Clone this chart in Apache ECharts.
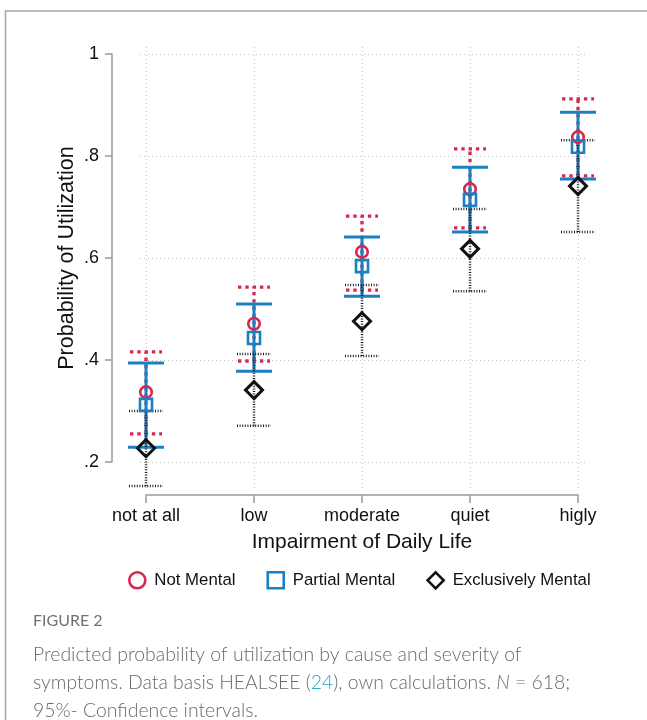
<!DOCTYPE html>
<html>
<head>
<meta charset="utf-8">
<script src="https://cdn.jsdelivr.net/npm/echarts@6/dist/echarts.min.js"></script>
<style>
html,body{margin:0;padding:0;background:#fff;}
#chart{width:647px;height:720px;}
</style>
</head>
<body>
<div id="chart"></div>
<script>
// ---- data ----
const categories = ['not at all', 'low', 'moderate', 'quiet', 'higly'];
const yTicks = [0.2, 0.4, 0.6, 0.8, 1];

const notMental   = [0.337, 0.471, 0.612, 0.735, 0.837];
const notMentalLo = [0.255, 0.398, 0.537, 0.659, 0.761];
const notMentalHi = [0.416, 0.543, 0.682, 0.814, 0.912];

const partialMental   = [0.312, 0.443, 0.584, 0.714, 0.818];
const partialMentalLo = [0.229, 0.378, 0.525, 0.651, 0.755];
const partialMentalHi = [0.394, 0.510, 0.641, 0.778, 0.886];

const exclMental   = [0.227, 0.341, 0.476, 0.618, 0.741];
const exclMentalLo = [0.153, 0.271, 0.408, 0.535, 0.651];
const exclMentalHi = [0.300, 0.412, 0.547, 0.696, 0.831];

// ---- styling ----
const RED = '#d8284f', BLUE = '#1a80c2', BLACK = '#111111';
const AXIS_GRAY = '#9a9a9a', GRID_GRAY = '#c4c4c4';
const FONT = '"Liberation Sans", Arial, sans-serif';

function pts(vals) { return vals.map((v, i) => [i, v]); }
function ci(lo, hi) { return lo.map((l, i) => [i, l, hi[i]]); }

function ciRenderer(style, hw) {
  return function (params, api) {
    const x = api.value(0);
    const pLo = api.coord([x, api.value(1)]);
    const pHi = api.coord([x, api.value(2)]);
    return {
      type: 'group',
      children: [
        { type: 'line', shape: { x1: pLo[0], y1: pLo[1], x2: pHi[0], y2: pHi[1] }, style: style },
        { type: 'line', shape: { x1: pLo[0] - hw, y1: pLo[1], x2: pLo[0] + hw, y2: pLo[1] }, style: style },
        { type: 'line', shape: { x1: pHi[0] - hw, y1: pHi[1], x2: pHi[0] + hw, y2: pHi[1] }, style: style }
      ]
    };
  };
}

const chart = echarts.init(document.getElementById('chart'), null, { renderer: 'canvas' });

const option = {
  animation: false,
  backgroundColor: '#fff',
  grid: [
    { left: 146, right: 69, top: 54, bottom: 258 },   // data grid
    { left: 146, right: 69, top: 47, bottom: 230 },   // vertical grid lines
    { left: 140, right: 62, top: 54, bottom: 258 }    // horizontal grid lines
  ],
  xAxis: [
    {
      gridIndex: 0, type: 'value', min: 0, max: categories.length - 1, interval: 1,
      offset: 33,
      axisLine: { show: true, onZero: false, lineStyle: { color: AXIS_GRAY, width: 1.5 } },
      axisTick: { show: true, length: 8, lineStyle: { color: AXIS_GRAY, width: 1.5 } },
      axisLabel: { margin: 12, fontSize: 18, color: '#111', fontFamily: FONT,
        formatter: v => categories[Math.round(v)] || '' },
      splitLine: { show: false },
      name: 'Impairment of Daily Life', nameLocation: 'middle', nameGap: 37,
      nameMoveOverlap: false,
      nameTextStyle: { fontSize: 21, color: '#111', fontFamily: FONT }
    },
    {
      gridIndex: 1, type: 'value', min: 0, max: categories.length - 1, interval: 1,
      axisLine: { show: false, onZero: false }, axisTick: { show: false }, axisLabel: { show: false },
      splitLine: { show: true, lineStyle: { color: GRID_GRAY, width: 1, type: [1, 3] } }
    },
    {
      gridIndex: 2, type: 'value', min: 0, max: 1, show: false
    }
  ],
  yAxis: [
    {
      gridIndex: 0, type: 'value', min: yTicks[0], max: yTicks[yTicks.length - 1], interval: 0.2,
      offset: 34,
      axisLine: { show: true, onZero: false, lineStyle: { color: AXIS_GRAY, width: 1.5 } },
      axisTick: { show: true, length: 7, lineStyle: { color: AXIS_GRAY, width: 1.5 } },
      axisLabel: { margin: 13, fontSize: 18, color: '#111', fontFamily: FONT,
        formatter: v => (Math.abs(v - 1) < 1e-9 ? '1' : v.toFixed(1).replace(/^0/, '')) },
      splitLine: { show: false },
      name: 'Probability of Utilization', nameLocation: 'middle', nameGap: 34, nameRotate: 90,
      nameMoveOverlap: false,
      nameTextStyle: { fontSize: 21.5, color: '#111', fontFamily: FONT }
    },
    {
      gridIndex: 1, type: 'value', min: 0, max: 1, show: false
    },
    {
      gridIndex: 2, type: 'value', min: yTicks[0], max: yTicks[yTicks.length - 1], interval: 0.2,
      axisLine: { show: false, onZero: false }, axisTick: { show: false }, axisLabel: { show: false },
      splitLine: { show: true, lineStyle: { color: GRID_GRAY, width: 1, type: [1, 3] } }
    }
  ],
  legend: {
    data: ['Not Mental', 'Partial Mental', 'Exclusively Mental'],
    left: 123, top: 566,
    itemWidth: 16, itemHeight: 16, itemGap: 31,
    symbolKeepAspect: true,
    itemStyle: { borderWidth: 2.6 },
    textStyle: { fontSize: 16.8, color: '#111', fontFamily: FONT, padding: [0, 0, 0, 4] }
  },
  series: [
    {
      name: 'Not Mental CI', type: 'custom', xAxisIndex: 0, yAxisIndex: 0, clip: false,
      renderItem: ciRenderer({ stroke: RED, lineWidth: 3.3, lineDash: [3.4, 3.9], fill: null }, 16),
      data: ci(notMentalLo, notMentalHi)
    },
    {
      name: 'Not Mental', type: 'scatter', xAxisIndex: 0, yAxisIndex: 0,
      symbol: 'circle', symbolSize: 11.5,
      itemStyle: { color: 'rgba(255,255,255,0)', borderColor: RED, borderWidth: 2.6, opacity: 1 },
      data: pts(notMental)
    },
    {
      name: 'Partial Mental CI', type: 'custom', xAxisIndex: 0, yAxisIndex: 0, clip: false,
      renderItem: ciRenderer({ stroke: BLUE, lineWidth: 3, fill: null }, 18),
      data: ci(partialMentalLo, partialMentalHi)
    },
    {
      name: 'Partial Mental', type: 'scatter', xAxisIndex: 0, yAxisIndex: 0,
      symbol: 'rect', symbolSize: [12, 12],
      itemStyle: { color: 'rgba(255,255,255,0)', borderColor: BLUE, borderWidth: 2.6, opacity: 1 },
      data: pts(partialMental)
    },
    {
      name: 'Exclusively Mental CI', type: 'custom', xAxisIndex: 0, yAxisIndex: 0, clip: false,
      renderItem: ciRenderer({ stroke: '#222', lineWidth: 2.5, lineDash: [1, 1.6], fill: null }, 17),
      data: ci(exclMentalLo, exclMentalHi)
    },
    {
      name: 'Exclusively Mental', type: 'scatter', xAxisIndex: 0, yAxisIndex: 0,
      symbol: 'diamond', symbolSize: 17,
      itemStyle: { color: 'rgba(255,255,255,0)', borderColor: BLACK, borderWidth: 3, opacity: 1 },
      data: pts(exclMental)
    }
  ],
  graphic: [
    {
      type: 'rect', silent: true, z: -1,
      shape: { x: 5.5, y: 11, width: 760, height: 800 },
      style: { fill: null, stroke: '#a5a5a5', lineWidth: 1.5 }
    },
    {
      type: 'text', left: 33, top: 613,
      style: { text: 'FIGURE 2', fill: '#707070', font: '16px Lato, "Open Sans", sans-serif' }
    },
    {
      type: 'text', left: 33, top: 641,
      style: {
        text: '{t|Predicted probability of utilization by cause and severity of}\n' +
              '{t|symptoms. Data basis HEALSEE (}{l|24}{t|), own calculations. }{i|N}{t| = 618;}\n' +
              '{t|95%- Confidence intervals.}',
        lineHeight: 28,
        rich: {
          t: { fill: '#6a6a6a', fontSize: 19.4, fontFamily: 'Lato', fontWeight: 300, lineHeight: 28 },
          l: { fill: '#2aa6c4', fontSize: 19.4, fontFamily: 'Lato', fontWeight: 300, lineHeight: 28 },
          i: { fill: '#6a6a6a', fontSize: 19.4, fontFamily: 'Lato', fontWeight: 300, fontStyle: 'italic', lineHeight: 28 }
        }
      }
    }
  ]
};

chart.setOption(option);
</script>
</body>
</html>
